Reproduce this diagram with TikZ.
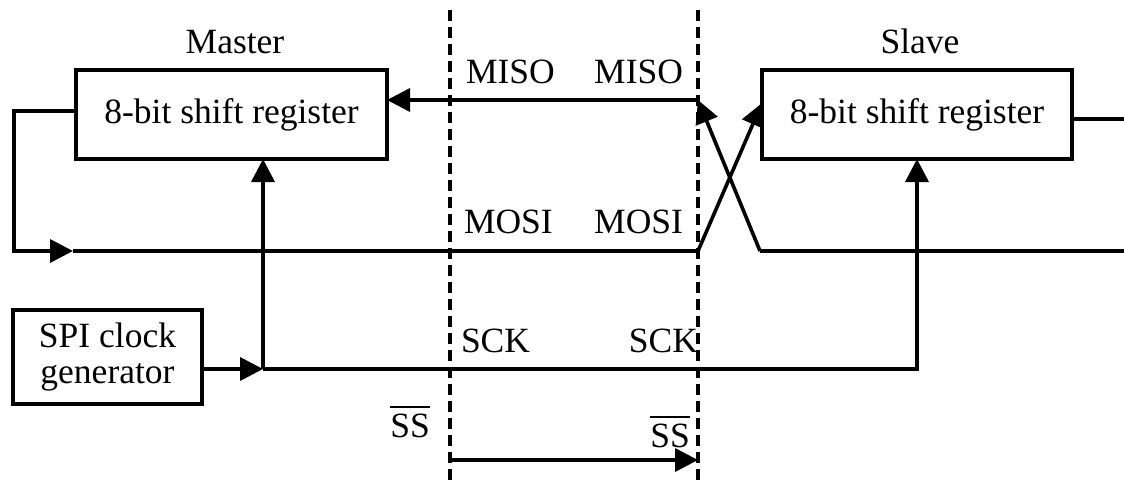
\documentclass[tikz,border=0pt]{standalone}
\usepackage{fontspec}
\setmainfont{Liberation Serif}
\usetikzlibrary{arrows.meta}
\newcommand\ovbar[1]{\vbox{\hrule height 1.6pt\kern 6pt\hbox{#1}}}
\begin{document}
\begin{tikzpicture}[x=1pt,y=-1pt,line width=3.6pt,
  every node/.style={font=\fontsize{35.5}{37}\selectfont,inner sep=0pt,outer sep=0pt},
  box/.style={draw,line width=3.6pt,minimum height=89pt},
  arr/.style={-{Triangle[length=23pt,width=23pt]}},
  sep/.style={line width=3.6pt,dash pattern=on 11pt off 6pt}]
\useasboundingbox (0,0) rectangle (1124,482);

% boxes
\node[box,minimum width=311pt] (master) at (231.5,114.5) {8-bit shift register};
\node[box,minimum width=310pt] (slave) at (917,114.5) {8-bit shift register};
\node[box,minimum width=189pt,minimum height=94pt,align=center,
      font=\fontsize{35.5}{36}\selectfont] (clk) at (107.5,357) {SPI clock\\generator};

% titles
\node[anchor=base] (tm) at (235,53) {Master};
\node[anchor=base] (ts) at (920,53) {Slave};

% separators
\coordinate (d1t) at (450,10); \coordinate (d1b) at (450,482);
\coordinate (d2t) at (698,10); \coordinate (d2b) at (698,482);
\draw[sep] (d1t) -- (d1b);
\draw[sep] (d2t) -- (d2b);

% coordinates
\coordinate (misoR) at (698,100);
\coordinate (mosiR) at (698,251);
\coordinate (xb) at (760,251);
\coordinate (rEnd) at (1124,251);
\coordinate (mOut) at ([yshift=3.5pt]master.west);
\coordinate (fbTop) at (14,111);
\coordinate (fbBot) at (14,251);
\coordinate (fbArr) at (73,251);
\coordinate (slIn) at ([yshift=11.5pt]slave.west);
\coordinate (slOut) at ([yshift=-4.5pt]slave.east);
\coordinate (slEnd) at (1124,119);
\coordinate (sckJ) at (263,369);
\coordinate (sckR) at (917,369);
\coordinate (ssA) at (450,460);
\coordinate (ssB) at (698,460);

% MISO
\draw[arr] (misoR) -- (misoR -| master.east);
\draw[arr] (xb) -- (misoR);
\draw (xb) -- (rEnd);
% MOSI
\draw[arr] (mOut) -- (fbTop) -- (fbBot) -- (fbArr);
\draw (fbArr) -- (mosiR);
\draw[arr] (mosiR) -- (slIn);
\draw (slOut) -- (slEnd);
% SCK
\draw[arr] (clk.east |- sckJ) -- (sckJ);
\draw[arr] (sckJ) -- (master.south -| sckJ);
\draw[arr] (sckJ) -- (sckR) -- (slave.south -| sckR);
% SS
\draw[arr] (ssA) -- (ssB);

% labels
\node[anchor=base west] (l1) at (466,83) {MISO};
\node[anchor=base east] (l2) at (683,83) {MISO};
\node[anchor=base west] (l3) at (464,233) {MOSI};
\node[anchor=base east] (l4) at (683,233) {MOSI};
\node[anchor=base west] (l5) at (461,352) {SCK};
\node[anchor=base east] (l6) at (698,352) {SCK};
\node[anchor=base] (l7) at (410,437) {\ovbar{SS}};
\node[anchor=base] (l8) at (670,447) {\ovbar{SS}};
\end{tikzpicture}
\end{document}
